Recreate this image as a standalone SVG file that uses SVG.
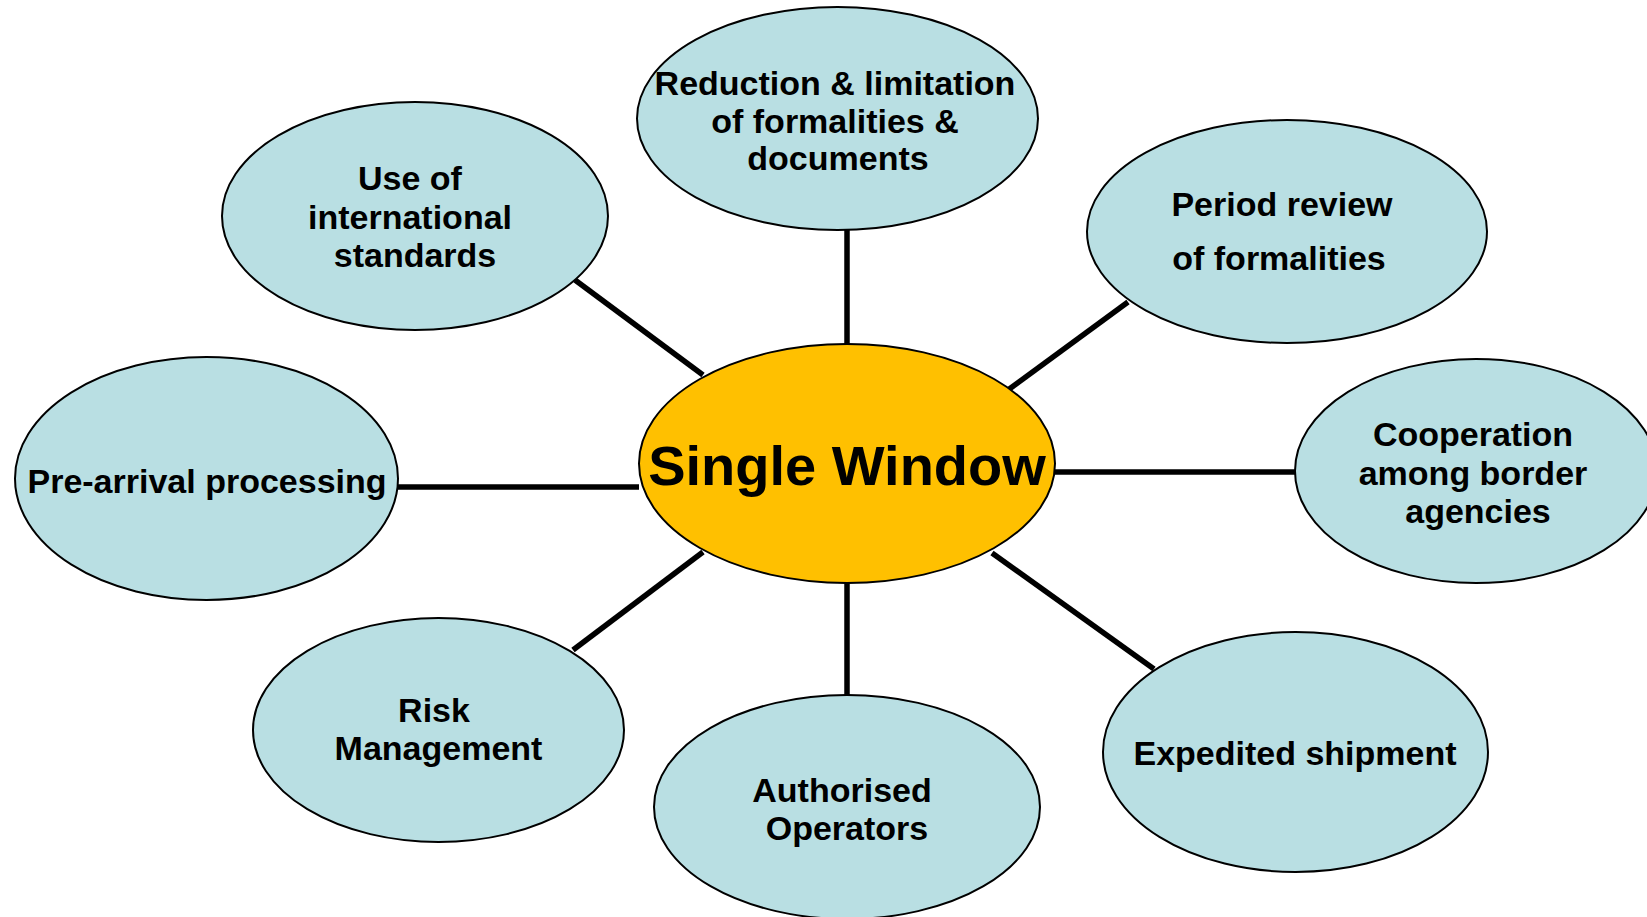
<svg xmlns="http://www.w3.org/2000/svg" width="1647" height="917" viewBox="0 0 1647 917">
<style>
.n{fill:#B9DFE3;stroke:#000;stroke-width:2}
.c{fill:#FFC000;stroke:#000;stroke-width:2}
.t{font-family:"Liberation Sans",Arial,sans-serif;font-weight:bold;font-size:34px;fill:#000;text-anchor:middle}
.big{font-size:56px}
.e{stroke:#000;stroke-width:5.5;fill:none}
</style>
<rect width="1647" height="917" fill="#fff"/>
<g id="connectors">
<line class="e" x1="847" y1="230" x2="847" y2="344"/>
<line class="e" x1="847" y1="583" x2="847" y2="695"/>
<line class="e" x1="398" y1="487" x2="639" y2="487"/>
<line class="e" x1="1055" y1="472" x2="1295" y2="472"/>
<line class="e" x1="575" y1="280" x2="703" y2="375"/>
<line class="e" x1="1128" y1="302" x2="1008" y2="390"/>
<line class="e" x1="703" y1="552" x2="573" y2="650"/>
<line class="e" x1="992" y1="553" x2="1154" y2="669"/>
</g>
<g id="node-center">
<ellipse class="c" cx="847" cy="463.5" rx="208" ry="119.5"/>
<text class="t big" x="847" y="485">Single Window</text>
</g>
<g id="node-top">
<ellipse class="n" cx="837.5" cy="118.5" rx="200.5" ry="111.5"/>
<text class="t" x="835" y="95">Reduction &amp; limitation</text>
<text class="t" x="835" y="133">of formalities &amp;</text>
<text class="t" x="838" y="170">documents</text>
</g>
<g id="node-upper-left">
<ellipse class="n" cx="415" cy="216" rx="193" ry="114"/>
<text class="t" x="410" y="190">Use of</text>
<text class="t" x="410" y="229">international</text>
<text class="t" x="415" y="267">standards</text>
</g>
<g id="node-upper-right">
<ellipse class="n" cx="1287" cy="231.5" rx="200" ry="111.5"/>
<text class="t" x="1282" y="216">Period review</text>
<text class="t" x="1279" y="270">of formalities</text>
</g>
<g id="node-right">
<ellipse class="n" cx="1476" cy="471" rx="181" ry="112"/>
<text class="t" x="1473" y="446">Cooperation</text>
<text class="t" x="1473" y="485">among border</text>
<text class="t" x="1478" y="523">agencies</text>
</g>
<g id="node-left">
<ellipse class="n" cx="206.5" cy="478.5" rx="191.5" ry="121.5"/>
<text class="t" x="207" y="493">Pre-arrival processing</text>
</g>
<g id="node-lower-left">
<ellipse class="n" cx="438.5" cy="730" rx="185.5" ry="112"/>
<text class="t" x="434" y="722">Risk</text>
<text class="t" x="438.5" y="760">Management</text>
</g>
<g id="node-bottom">
<ellipse class="n" cx="847" cy="807" rx="193" ry="112"/>
<text class="t" x="842" y="802">Authorised</text>
<text class="t" x="847" y="840">Operators</text>
</g>
<g id="node-lower-right">
<ellipse class="n" cx="1295.5" cy="752" rx="192.5" ry="120"/>
<text class="t" x="1295" y="765">Expedited shipment</text>
</g>
</svg>
